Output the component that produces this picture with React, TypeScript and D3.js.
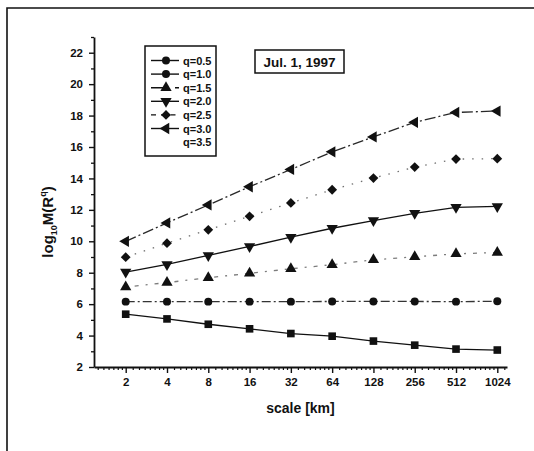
import { useEffect, useRef } from 'react'
import * as d3 from 'd3'

const scales = [2, 4, 8, 16, 32, 64, 128, 256, 512, 1024]
const yTicks = [2, 4, 6, 8, 10, 12, 14, 16, 18, 20, 22]

const q05 = [5.36, 5.06, 4.72, 4.43, 4.13, 3.96, 3.65, 3.39, 3.14, 3.08]
const q10 = [6.16, 6.16, 6.16, 6.16, 6.16, 6.17, 6.17, 6.17, 6.16, 6.18]
const q15 = [7.09, 7.37, 7.68, 7.96, 8.25, 8.51, 8.82, 9.01, 9.2, 9.29]
const q20 = [8.04, 8.53, 9.1, 9.67, 10.26, 10.83, 11.32, 11.78, 12.16, 12.22]
const q25 = [8.99, 9.88, 10.73, 11.59, 12.44, 13.28, 14.02, 14.72, 15.23, 15.26]
const q30 = [10.0, 11.17, 12.31, 13.47, 14.57, 15.69, 16.64, 17.57, 18.2, 18.29]

const seriesNames = ['q=0.5', 'q=1.0', 'q=1.5', 'q=2.0', 'q=2.5', 'q=3.0', 'q=3.5']

type Sym = 'square' | 'circle' | 'up' | 'down' | 'diamond' | 'left' | 'none'

interface Series {
  name: string
  values: number[]
  symbol: Sym
  legendSymbol: Sym
  dash: string
  legendDash: string
  opacity: number
}

const series: Series[] = [
  { name: seriesNames[0], values: q05, symbol: 'square', legendSymbol: 'circle', dash: '', legendDash: '', opacity: 1 },
  { name: seriesNames[1], values: q10, symbol: 'circle', legendSymbol: 'circle', dash: '9,3,2,3', legendDash: '', opacity: 0.85 },
  { name: seriesNames[2], values: q15, symbol: 'up', legendSymbol: 'up', dash: '2,7,4,7', legendDash: '12,4,2,6', opacity: 0.55 },
  { name: seriesNames[3], values: q20, symbol: 'down', legendSymbol: 'down', dash: '', legendDash: '', opacity: 1 },
  { name: seriesNames[4], values: q25, symbol: 'diamond', legendSymbol: 'diamond', dash: '1.5,8', legendDash: '5,5,1.5,8', opacity: 0.6 },
  { name: seriesNames[5], values: q30, symbol: 'left', legendSymbol: 'left', dash: '11,3,2,3', legendDash: '', opacity: 0.9 },
  { name: seriesNames[6], values: [], symbol: 'none', legendSymbol: 'none', dash: '', legendDash: '', opacity: 1 },
]

function symbolPath(s: Sym): { d: string; rot: number } | null {
  switch (s) {
    case 'square': return { d: d3.symbol(d3.symbolSquare, 58)()!, rot: 0 }
    case 'circle': return { d: d3.symbol(d3.symbolCircle, 50)()!, rot: 0 }
    case 'up': return { d: d3.symbol(d3.symbolTriangle, 55)()!, rot: 0 }
    case 'down': return { d: d3.symbol(d3.symbolTriangle, 55)()!, rot: 180 }
    case 'diamond': return { d: d3.symbol(d3.symbolSquare, 48)()!, rot: 45 }
    case 'left': return { d: d3.symbol(d3.symbolTriangle, 55)()!, rot: -90 }
    default: return null
  }
}

export default function App() {
  const svgRef = useRef<SVGSVGElement>(null)

  useEffect(() => {
    if (!svgRef.current) return
    const width = 534
    const height = 451
    const svg = d3.select(svgRef.current)
    svg.selectAll('*').remove()
    svg.attr('width', width).attr('height', height)

    const font = '"Liberation Sans", Arial, sans-serif'
    const ink = '#111'

    // outer frame (top + left edges visible)
    svg.append('path')
      .attr('d', `M7,451 L7,8 L534,8`)
      .attr('fill', 'none').attr('stroke', ink).attr('stroke-width', 1.6)

    const left = 94
    const right = 507
    const top = 37
    const bottom = 367

    const x = d3.scaleLog().base(2).domain([2 ** 0.232, 2 ** 10.235]).range([left, right])
    const y = d3.scaleLinear().domain([2, 23]).range([bottom, top])

    const g = svg.append('g').attr('font-family', font)

    // Y axis
    const yMinor = d3.range(3, 24, 2)
    g.append('g')
      .attr('transform', `translate(${left},0)`)
      .call(d3.axisLeft(y).tickValues(yMinor).tickSize(3).tickFormat(() => ''))
      .call(ax => ax.select('.domain').remove())
      .selectAll('line').attr('stroke', ink).attr('stroke-width', 1.3)
    g.append('g')
      .attr('transform', `translate(${left},0)`)
      .call(d3.axisLeft(y).tickValues(yTicks).tickSize(5).tickPadding(6).tickSizeOuter(0))
      .call(ax => ax.select('.domain').attr('stroke', ink).attr('stroke-width', 1.8))
      .call(ax => ax.selectAll('line').attr('stroke', ink).attr('stroke-width', 1.4))
      .selectAll('text')
      .attr('fill', ink).attr('font-size', '11.5px').attr('font-weight', 'bold').attr('font-family', font)

    // X axis minor ticks
    const xd = x.domain()
    const minor: number[] = []
    for (let p = 0; p <= 10; p++) {
      const base = 2 ** p
      for (let k = 1; k < 8; k++) {
        const v = base * (1 + k / 8)
        if (v > xd[0] && v < xd[1]) minor.push(v)
      }
    }
    g.append('g')
      .attr('transform', `translate(0,${bottom})`)
      .call(d3.axisBottom(x).tickValues(minor).tickSize(3).tickFormat(() => ''))
      .call(ax => ax.select('.domain').remove())
      .selectAll('line').attr('stroke', ink).attr('stroke-width', 1.2)
    g.append('g')
      .attr('transform', `translate(0,${bottom})`)
      .call(d3.axisBottom(x).tickValues(scales).tickSize(6).tickPadding(5).tickSizeOuter(0).tickFormat(d => String(d)))
      .call(ax => ax.select('.domain').attr('stroke', ink).attr('stroke-width', 1.8))
      .call(ax => ax.selectAll('line').attr('stroke', ink).attr('stroke-width', 1.4))
      .selectAll('text')
      .attr('fill', ink).attr('font-size', '11.5px').attr('font-weight', 'bold').attr('font-family', font)

    // axis titles
    g.append('text')
      .attr('x', (left + right) / 2).attr('y', 413)
      .attr('text-anchor', 'middle').attr('fill', ink)
      .attr('font-size', '14px').attr('font-weight', 'bold')
      .text('scale [km]')

    const yl = g.append('text')
      .attr('transform', `translate(53,222) rotate(-90)`)
      .attr('text-anchor', 'middle').attr('fill', ink)
      .attr('font-size', '15px').attr('font-weight', 'bold')
    yl.append('tspan').text('log')
    yl.append('tspan').attr('font-size', '9px').attr('dy', 4).text('10')
    yl.append('tspan').attr('dy', -4).text('M(R')
    yl.append('tspan').attr('font-size', '9px').attr('dy', -7).text('q')
    yl.append('tspan').attr('dy', 7).text(')')

    // lines + markers
    series.forEach(s => {
      if (!s.values.length) return
      const pts = s.values.map((v, i) => [x(scales[i]), y(v)] as [number, number])
      g.append('path')
        .datum(pts)
        .attr('fill', 'none')
        .attr('stroke', ink)
        .attr('stroke-width', 1.3)
        .attr('stroke-opacity', s.opacity)
        .attr('stroke-dasharray', s.dash || null)
        .attr('d', d3.line())
      const sp = symbolPath(s.symbol)
      if (!sp) return
      g.append('g').selectAll('path')
        .data(pts)
        .join('path')
        .attr('d', sp.d)
        .attr('fill', ink)
        .attr('transform', d => `translate(${d[0]},${d[1]}) rotate(${sp.rot})`)
    })

    // legend
    const lg = g.append('g')
    lg.append('rect')
      .attr('x', 145).attr('y', 46).attr('width', 71).attr('height', 110)
      .attr('fill', 'white').attr('stroke', ink).attr('stroke-width', 1.5)
    series.forEach((s, i) => {
      const cy = 60.5 + i * 13.6
      if (s.symbol !== 'none') {
        lg.append('line')
          .attr('x1', 151).attr('x2', 179).attr('y1', cy).attr('y2', cy)
          .attr('stroke', ink).attr('stroke-width', 1.4)
          .attr('stroke-dasharray', s.legendDash || null)
        const sp = symbolPath(s.legendSymbol)
        if (sp) {
          lg.append('path').attr('d', sp.d).attr('fill', ink)
            .attr('transform', `translate(166,${cy}) rotate(${sp.rot})`)
        }
      }
      lg.append('text')
        .attr('x', 183).attr('y', cy + 4)
        .attr('fill', ink).attr('font-size', '11px').attr('font-weight', 'bold')
        .text(s.name)
    })

    // date box
    g.append('rect')
      .attr('x', 255).attr('y', 50).attr('width', 89).attr('height', 23)
      .attr('fill', 'white').attr('stroke', ink).attr('stroke-width', 1.5)
    g.append('text')
      .attr('x', 299.5).attr('y', 66.5)
      .attr('text-anchor', 'middle').attr('fill', ink)
      .attr('font-size', '13.5px').attr('font-weight', 'bold')
      .text('Jul. 1, 1997')
  }, [])

  return (
    <div style={{ position: 'absolute', left: 0, top: 0 }}>
      <svg ref={svgRef} style={{ display: 'block' }} />
    </div>
  )
}
